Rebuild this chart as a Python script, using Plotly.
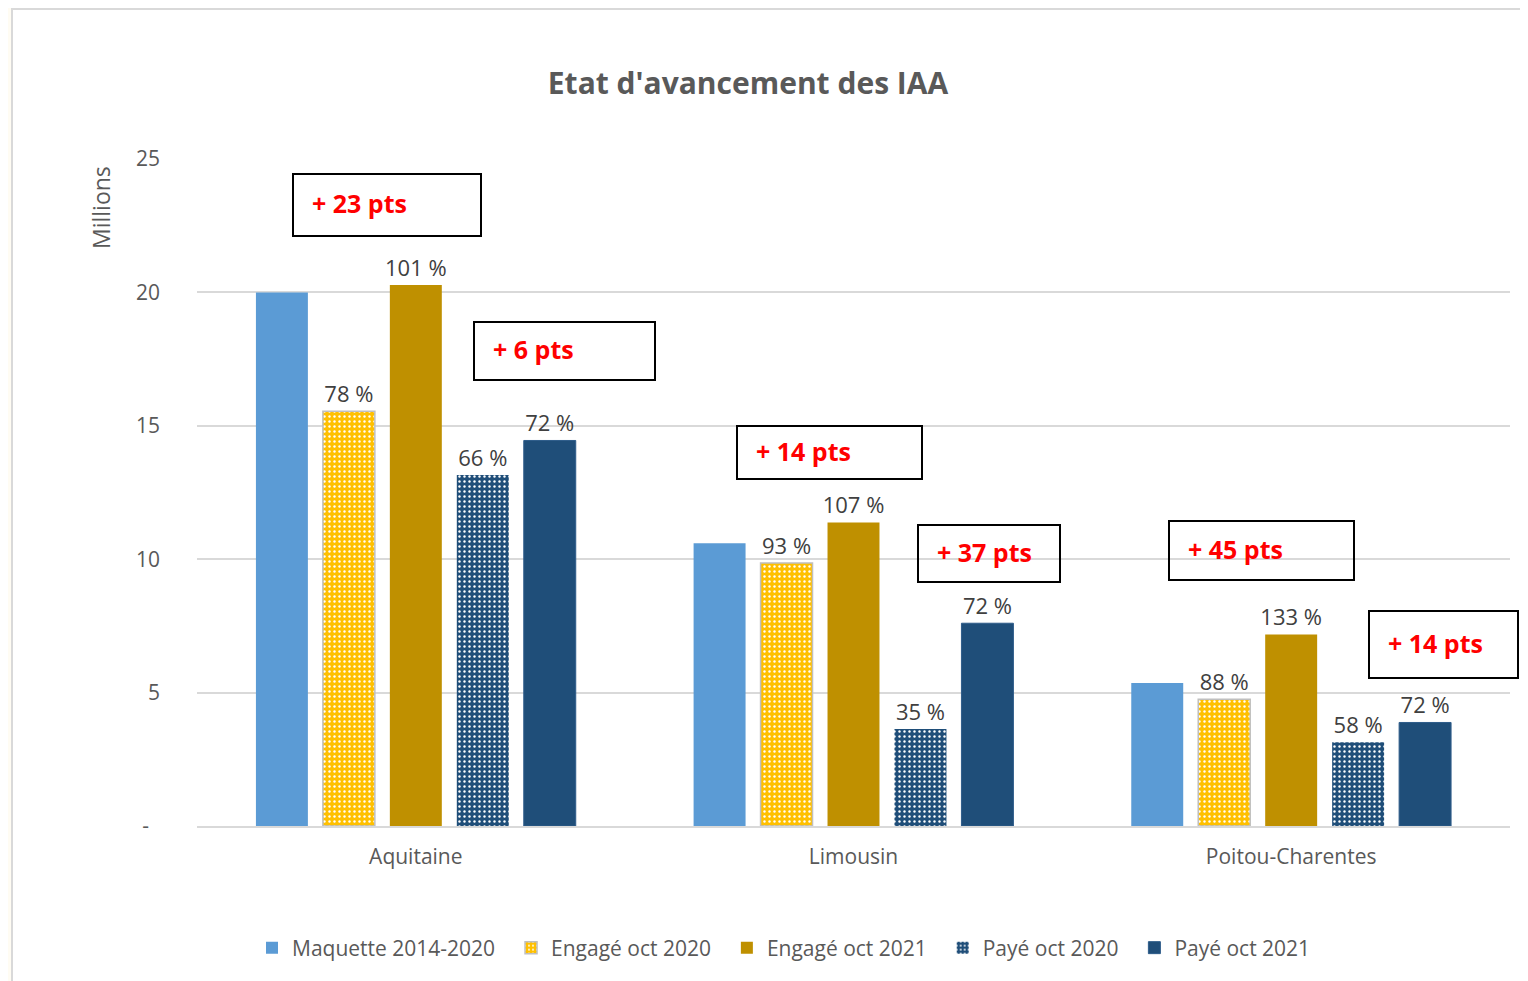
import plotly.graph_objects as go

# ---------------- data ----------------
categories = ["Aquitaine", "Limousin", "Poitou-Charentes"]
series_names = ["Maquette 2014-2020", "Engagé oct 2020", "Engagé oct 2021", "Payé oct 2020", "Payé oct 2021"]
maquette = [20.0, 10.6, 5.36]
engage_2020 = [15.55, 9.86, 4.75]
engage_2021 = [20.28, 11.38, 7.18]
paye_2020 = [13.16, 3.64, 3.14]
paye_2021 = [14.45, 7.6, 3.88]
labels_engage_2020 = ["78 %", "93 %", "88 %"]
labels_engage_2021 = ["101 %", "107 %", "133 %"]
labels_paye_2020 = ["66 %", "35 %", "58 %"]
labels_paye_2021 = ["72 %", "72 %", "72 %"]
gain_labels = ["+ 23 pts", "+ 6 pts", "+ 14 pts", "+ 37 pts", "+ 45 pts", "+ 14 pts"]
y_tickvals = [0, 5, 10, 15, 20, 25]
y_ticktext = ["-\u00a0\u00a0", "5", "10", "15", "20", "25"]

# ---------------- layout geometry ----------------
W, H = 1528, 981
OFF = 8  # page offset of the figure in the browser
L = 197 - OFF
T = 159 - OFF
R = W - (1510 - OFF)
B = H - (826 - OFF)
PW, PH = W - L - R, H - T - B


def px(x):
    return (x - OFF - L) / PW


def py(y):
    return (826 - y) / PH


FONT = "Open Sans, Liberation Sans, sans-serif"
GREY = "#595959"
LABEL = "#404040"
PAD = "\u00a0\u00a0"

fig = go.Figure()

fig.add_trace(go.Bar(name=series_names[0] + PAD, x=categories, y=maquette,
                     marker=dict(color="#5B9BD5", line=dict(width=0))))
fig.add_trace(go.Bar(name=series_names[1] + PAD, x=categories, y=engage_2020,
                     text=labels_engage_2020, textposition="outside",
                     marker=dict(color="#FFC000", line=dict(color="#BFBFBF", width=1.5),
                                 pattern=dict(shape=".", fgcolor="#FFFFFF", bgcolor="#FFC000",
                                              size=5, solidity=0.18, fillmode="replace"))))
fig.add_trace(go.Bar(name=series_names[2] + PAD, x=categories, y=engage_2021,
                     text=labels_engage_2021, textposition="outside",
                     marker=dict(color="#BF9000", line=dict(width=0))))
fig.add_trace(go.Bar(name=series_names[3] + PAD, x=categories, y=paye_2020,
                     text=labels_paye_2020, textposition="outside",
                     marker=dict(color="#1F4E79", line=dict(width=0),
                                 pattern=dict(shape=".", fgcolor="#FFFFFF", bgcolor="#1F4E79",
                                              size=5, solidity=0.18, fillmode="replace"))))
fig.add_trace(go.Bar(name=series_names[4], x=categories, y=paye_2021,
                     text=labels_paye_2021, textposition="outside",
                     marker=dict(color="#1F4E79", line=dict(color="#2E5C8A", width=1))))

fig.update_traces(textfont=dict(family=FONT, size=22, color=LABEL), cliponaxis=False,
                  constraintext="none")

# boxes with gains (screenshot pixel positions of boxes)
boxes = [
    (293, 481, 174, 236),
    (474, 655, 322, 380),
    (737, 922, 426, 479),
    (918, 1060, 525, 582),
    (1169, 1354, 521, 580),
    (1369, 1518, 611, 678),
]
shapes = [
    dict(type="rect", xref="paper", yref="paper", x0=px(12), x1=px(1560), y0=py(9), y1=py(1010),
         fillcolor="#FFFFFF", line=dict(color="#D9D9D9", width=2), layer="below"),
]
annotations = []
for (x0, x1, y0, y1), txt in zip(boxes, gain_labels):
    shapes.append(dict(type="rect", xref="paper", yref="paper", x0=px(x0), x1=px(x1),
                       y0=py(y0), y1=py(y1), line=dict(color="#000000", width=2),
                       fillcolor="rgba(0,0,0,0)"))
    annotations.append(dict(xref="paper", yref="paper", x=px(x0 + 17), y=py((y0 + y1) / 2 - 2),
                            xanchor="left", yanchor="middle", showarrow=False, text=f"<b>{txt}</b>",
                            font=dict(family=FONT, size=25, color="#FF0000")))

annotations.append(dict(xref="paper", yref="paper", x=px(101), y=py(208), text="Millions",
                        textangle=-90, showarrow=False, xanchor="center", yanchor="middle",
                        font=dict(family=FONT, size=23, color=GREY)))

fig.update_layout(
    width=W, height=H,
    margin=dict(l=L, r=R, t=T, b=B, autoexpand=False),
    paper_bgcolor="#FFFCF3",
    plot_bgcolor="#FFFFFF",
    title=dict(text="<b>Etat d'avancement des IAA</b>", xref="container", x=(748 - OFF) / W,
               xanchor="center", y=1 - (83 - OFF) / H, yanchor="middle",
               font=dict(family=FONT, size=30, color=GREY)),
    barmode="group",
    bargap=0.235,
    bargroupgap=0.224,
    showlegend=True,
    legend=dict(orientation="h", x=px(784), xanchor="center", y=py(948), yanchor="middle",
                font=dict(family=FONT, size=21, color=GREY), bgcolor="rgba(0,0,0,0)",
                itemwidth=30, tracegroupgap=0),
    xaxis=dict(showgrid=False, showline=True, linecolor="#D9D9D9", linewidth=1.5,
               tickfont=dict(family=FONT, size=21, color=GREY), ticks="", ticklabelstandoff=11),
    yaxis=dict(range=[0, 25], tickvals=y_tickvals, ticktext=y_ticktext,
               showgrid=True, gridcolor="#D9D9D9", gridwidth=1.5, zeroline=False,
               tickfont=dict(family=FONT, size=21, color=GREY), ticks="", ticklabelstandoff=36),
    shapes=shapes,
    annotations=annotations,
)

fig.write_html("out.html")
